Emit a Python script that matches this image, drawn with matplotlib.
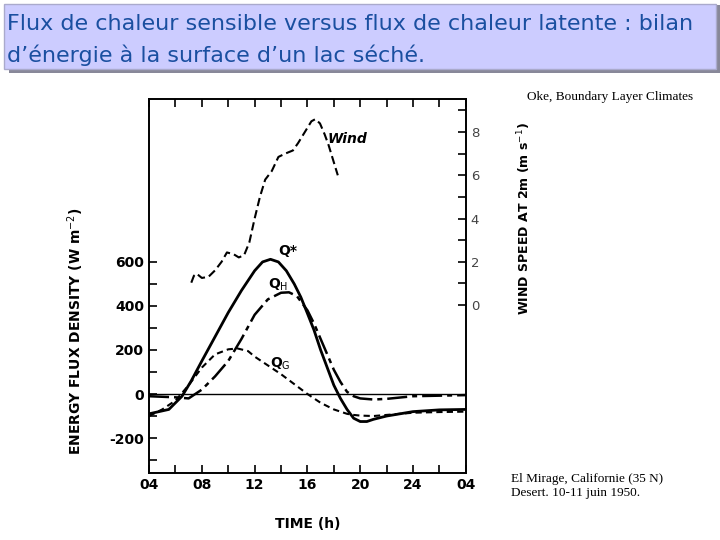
import matplotlib
matplotlib.use("Agg")
import matplotlib.pyplot as plt
from matplotlib.patches import Rectangle

qs_t = [4, 5.5, 6.5, 7.2, 8, 9, 10, 11, 12, 12.6, 13.2, 13.8, 14.4, 15, 15.5, 16, 16.5, 17, 17.5, 18, 18.5, 19, 19.5, 20, 20.5, 21, 22, 24, 26, 28]
qs_v = [-90, -70, -10, 60, 150, 260, 370, 470, 560, 600, 612, 600, 560, 500, 440, 366, 290, 200, 120, 40, -20, -70, -110, -125, -125, -115, -100, -80, -72, -70]
qh_t = [4, 6, 7, 7.5, 8, 9, 10, 11, 12, 13, 14, 14.6, 15.2, 16, 16.5, 17, 17.5, 18, 18.5, 19, 19.5, 20, 21, 22, 24, 28]
qh_v = [-10, -15, -20, 0, 20, 80, 150, 250, 360, 430, 460, 462, 445, 380, 320, 250, 180, 110, 55, 10, -10, -20, -25, -22, -10, -5]
qg_t = [4, 5, 6, 7, 8, 9, 10, 10.7, 11.5, 12, 13, 14, 15, 16, 17, 18, 19, 19.5, 20, 21, 22, 24, 26, 28]
qg_v = [-100, -70, -30, 40, 120, 180, 203, 207, 195, 170, 130, 90, 45, 0, -40, -70, -90, -95, -98, -100, -95, -85, -82, -80]
w_t = [7.2, 7.4, 7.6, 8, 8.5, 9, 9.5, 9.9, 10.4, 10.8, 11.2, 11.6, 12, 12.4, 12.8, 13.3, 13.8, 14.3, 14.9, 15.3, 15.8, 16.3, 16.6, 16.95, 17.3, 17.6, 18, 18.3]
w_v = [1.03, 1.35, 1.45, 1.25, 1.3, 1.6, 2.0, 2.43, 2.35, 2.2, 2.3, 2.9, 4.0, 5.0, 5.8, 6.2, 6.85, 7.0, 7.15, 7.5, 8.0, 8.5, 8.6, 8.4, 7.9, 7.4, 6.6, 6.0]
x_ticks = [4, 8, 12, 16, 20, 24, 28]
x_labels = ["04", "08", "12", "16", "20", "24", "04"]

fig = plt.figure(figsize=(7.2, 5.4), dpi=100)
fig.patches.append(Rectangle((0.012, 0.865), 0.988, 0.125, transform=fig.transFigure,
                             facecolor="#888899", edgecolor="none"))
fig.patches.append(Rectangle((0.005, 0.872), 0.99, 0.12, transform=fig.transFigure,
                             facecolor="#ccccff", edgecolor="#aaaacc"))
fig.text(0.01, 0.955, "Flux de chaleur sensible versus flux de chaleur latente : bilan",
         fontsize=16, color="#1a4fa0", va="center", family="DejaVu Sans")
fig.text(0.01, 0.898, "d\u2019énergie à la surface d\u2019un lac séché.",
         fontsize=16, color="#1a4fa0", va="center", family="DejaVu Sans")
fig.text(0.732, 0.82, "Oke, Boundary Layer Climates", fontsize=9.5, family="Liberation Serif", va="center")
fig.text(0.71, 0.1, "El Mirage, Californie (35 N)\nDesert. 10-11 juin 1950.", fontsize=9.5,
         family="Liberation Serif", va="center", linespacing=1.3)

ax = fig.add_axes([0.207, 0.124, 0.440, 0.693])
ax.plot(qs_t, qs_v, color="black", lw=2)
ax.plot(qh_t, qh_v, color="black", lw=1.8, dashes=[8, 2, 2, 2])
ax.plot(qg_t, qg_v, color="black", lw=1.5, dashes=[3, 2])
ax.axhline(0, color="black", lw=1)
ax.set_xlim(4, 28)
ax.set_ylim(-359, 1341)
ax.set_xticks(x_ticks)
ax.set_xticklabels(x_labels, fontweight="bold", fontsize=10)
ax.set_xticks(range(4, 29, 2), minor=True)
ax.set_yticks([-200, 0, 200, 400, 600])
ax.set_yticklabels(["-200", "0", "200", "400", "600"], fontweight="bold", fontsize=10)
ax.set_yticks(range(-300, 700, 100), minor=True)
ax.tick_params(which="both", direction="in", top=True, length=6, width=1.2)
ax.set_xlabel("TIME (h)", fontweight="bold", fontsize=10, labelpad=18)
ax.set_ylabel("ENERGY FLUX DENSITY (W m$^{-2}$)", fontweight="bold", fontsize=10)
ax.yaxis.set_label_coords(-0.2, 0.38)
ax.text(13.8, 630, "Q*", fontweight="bold", fontsize=10)
ax.text(13.0, 480, "Q$_\\mathrm{H}$", fontweight="bold", fontsize=10)
ax.text(13.2, 120, "Q$_\\mathrm{G}$", fontweight="bold", fontsize=10)
ax.text(17.5, 1140, "Wind", fontweight="bold", fontstyle="italic", fontsize=10)

ax2 = ax.twinx()
ax2.plot(w_t, w_v, color="black", lw=1.5, dashes=[4, 2])
ax2.set_ylim(-7.78, 9.54)
ax2.set_yticks([0, 2, 4, 6, 8])
ax2.set_yticks(range(0, 10), minor=True)
ax2.tick_params(which="both", direction="in", length=6, width=1.2, labelsize=9.5, labelcolor="#444444")
ax2.set_ylabel("WIND SPEED AT 2m (m s$^{-1}$)", fontweight="bold", fontsize=9)
ax2.yaxis.set_label_coords(1.155, 0.68)
for a in (ax, ax2):
    for s in a.spines.values():
        s.set_linewidth(1.2)

fig.savefig("out.png", dpi=100)
